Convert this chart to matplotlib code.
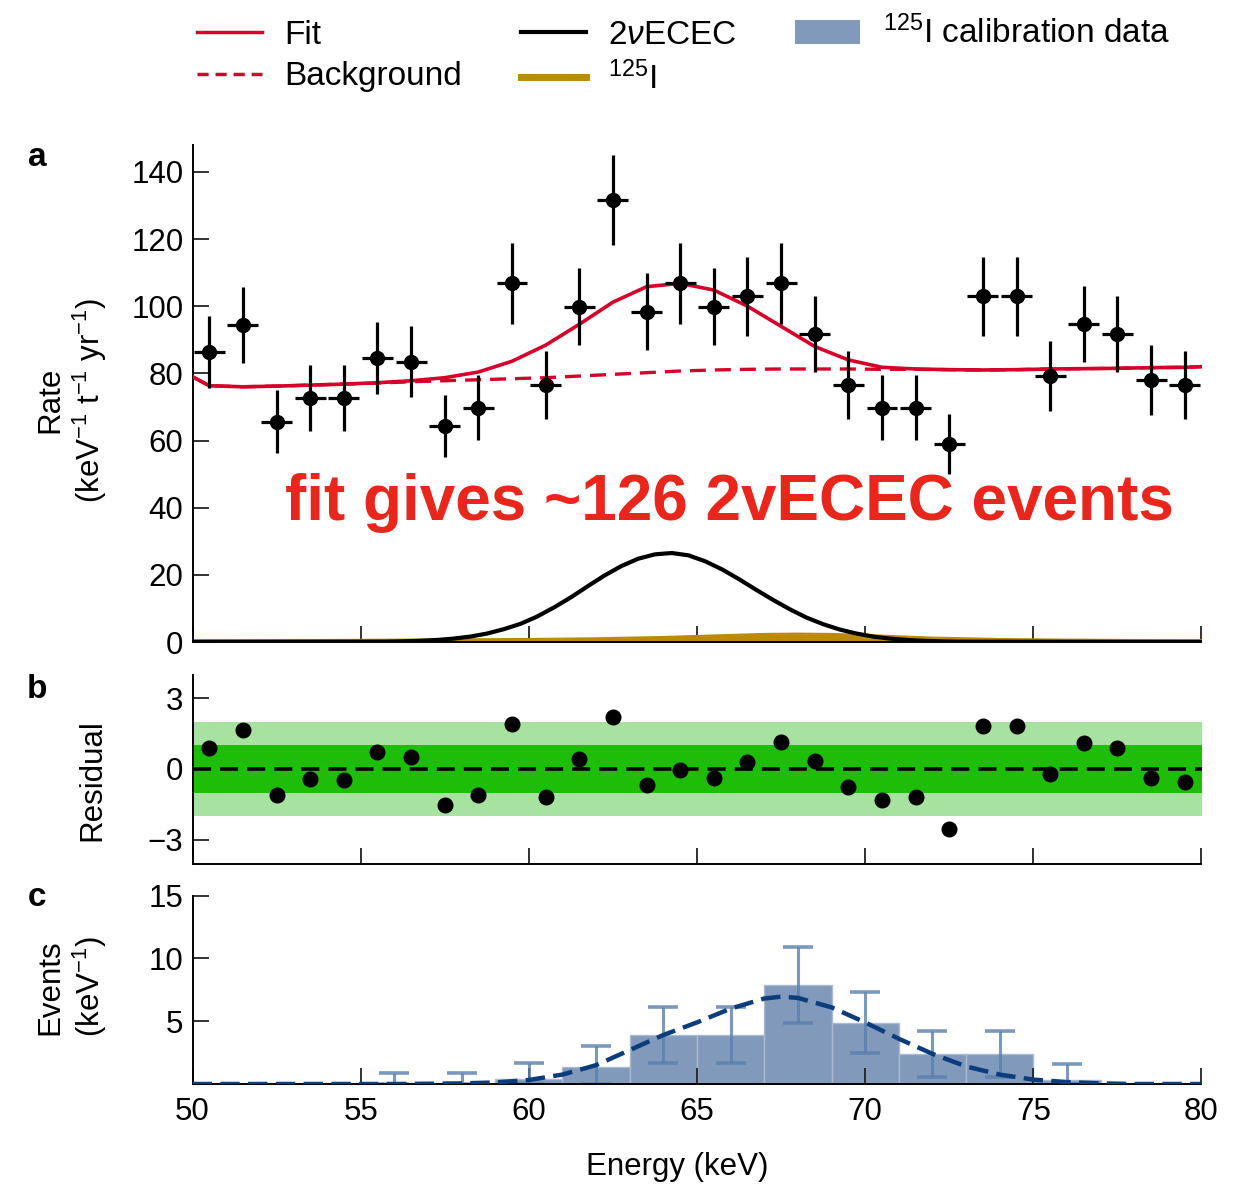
import matplotlib
matplotlib.use('Agg')
import matplotlib.pyplot as plt
from matplotlib.lines import Line2D
from matplotlib.patches import Patch

plt.rcParams['font.family'] = ['Liberation Sans', 'DejaVu Sans']
plt.rcParams['mathtext.fontset'] = 'custom'
plt.rcParams['mathtext.rm'] = 'Liberation Sans'
plt.rcParams['mathtext.it'] = 'Liberation Sans:italic'
plt.rcParams['mathtext.bf'] = 'Liberation Sans:bold'
plt.rcParams['lines.scale_dashes'] = False

# ---------------- data ----------------
bin_centers = [50.5, 51.5, 52.5, 53.5, 54.5, 55.5, 56.5, 57.5, 58.5, 59.5,
               60.5, 61.5, 62.5, 63.5, 64.5, 65.5, 66.5, 67.5, 68.5, 69.5,
               70.5, 71.5, 72.5, 73.5, 74.5, 75.5, 76.5, 77.5, 78.5, 79.5]
rate = [86.3, 94.4, 65.6, 72.6, 72.6, 84.7, 83.5, 64.3, 69.8, 106.8,
        76.6, 99.9, 131.5, 98.4, 106.8, 99.9, 102.9, 106.8, 91.7, 76.6,
        69.8, 69.8, 58.9, 102.9, 102.9, 79.3, 94.6, 91.7, 78.0, 76.6]
rate_err = [10.8, 11.3, 9.4, 9.9, 9.9, 10.7, 10.6, 9.3, 9.7, 12.0,
            10.2, 11.6, 13.4, 11.5, 12.0, 11.6, 11.8, 12.0, 11.2, 10.2,
            9.7, 9.7, 8.9, 11.8, 11.8, 10.4, 11.3, 11.2, 10.3, 10.2]
residual = [0.88, 1.63, -1.10, -0.42, -0.47, 0.71, 0.52, -1.54, -1.10, 1.91,
            -1.17, 0.42, 2.22, -0.68, -0.04, -0.40, 0.31, 1.13, 0.34, -0.78,
            -1.32, -1.20, -2.52, 1.80, 1.80, -0.23, 1.12, 0.88, -0.40, -0.57]

curve_x = [50.0, 50.5, 51.5, 52.5, 53.5, 54.5, 55.5, 56.5, 57.5, 58.5, 59.5,
           60.5, 61.5, 62.5, 63.5, 64.5, 65.5, 66.5, 67.5, 68.5, 69.5,
           70.5, 71.5, 72.5, 73.5, 74.5, 75.5, 76.5, 77.5, 78.5, 79.5, 80.0]
fit_total = [79.0, 76.3, 76.0, 76.2, 76.5, 76.8, 77.2, 77.8, 78.7, 80.4, 83.6,
             88.4, 94.6, 101.2, 105.8, 106.8, 104.8, 100.0, 94.0, 88.0, 84.0,
             81.8, 81.3, 81.1, 81.0, 81.1, 81.3, 81.4, 81.5, 81.7, 81.8, 82.0]
background = [79.0, 76.3, 76.0, 76.2, 76.5, 76.8, 77.1, 77.5, 77.8, 78.1, 78.4,
              78.7, 79.2, 79.7, 80.2, 80.7, 81.0, 81.2, 81.3, 81.3, 81.3,
              81.2, 81.2, 81.1, 81.0, 81.1, 81.3, 81.4, 81.5, 81.7, 81.8, 82.0]

ecec_x = [50.0, 55.75, 56.25, 56.75, 57.25, 57.75, 58.25, 58.75, 59.25, 59.75, 60.25,
          60.75, 61.25, 61.75, 62.25, 62.75, 63.25, 63.75, 64.25, 64.75, 65.25, 65.75,
          66.25, 66.75, 67.25, 67.75, 68.25, 68.75, 69.25, 69.75, 70.25, 70.75, 71.25,
          71.75, 72.25, 72.75, 80.0]
ecec = [0.0, 0.1, 0.2, 0.35, 0.6, 1.0, 1.6, 2.5, 3.8, 5.4, 7.6,
        10.3, 13.3, 16.6, 19.8, 22.6, 24.8, 26.1, 26.5, 25.8, 24.0, 21.6,
        18.7, 15.6, 12.6, 9.8, 7.3, 5.3, 3.7, 2.5, 1.6, 1.0, 0.6,
        0.35, 0.2, 0.1, 0.0]

i125_x = [50, 52, 54, 56, 58, 60, 62, 63, 64, 65, 66, 67, 68, 69, 70, 71, 72, 74, 76, 78, 80]
i125 = [0.6, 0.6, 0.6, 0.7, 0.8, 0.9, 1.1, 1.3, 1.5, 1.8, 2.1, 2.4, 2.5, 2.4, 2.1, 1.7, 1.3, 0.9, 0.7, 0.6, 0.6]

calib_centers = [56, 58, 60, 62, 64, 66, 68, 70, 72, 74, 76]
calib_events = [0.0, 0.0, 0.37, 1.38, 3.89, 3.89, 7.86, 4.87, 2.38, 2.38, 0.32]
calib_err_lo = [0.0, 0.0, 0.37, 1.38, 2.20, 2.20, 2.99, 2.44, 1.85, 1.80, 0.32]
calib_err_hi = [0.85, 0.85, 1.27, 1.64, 2.25, 2.25, 3.04, 2.46, 1.85, 1.85, 1.27]

calib_fit_x = [50, 56, 57, 58, 59, 60, 61, 62, 63, 64, 65, 66, 67, 67.5, 68,
               69, 70, 71, 72, 73, 74, 75, 76, 77, 78, 80]
calib_fit = [0.0, 0.0, 0.02, 0.05, 0.12, 0.32, 0.75, 1.5, 2.7, 3.9, 4.9, 6.0, 6.8, 6.95, 6.85,
             6.1, 4.9, 3.6, 2.4, 1.4, 0.75, 0.35, 0.15, 0.05, 0.0, 0.0]

x_ticks = [50, 55, 60, 65, 70, 75, 80]

# ---------------- style ----------------
RED = '#d7002a'
GOLD = '#bb8a0a'
BLUE_BAR = '#8199ba'
BLUE_ERR = '#5a7fae'
BLUE_FIT = '#0b3c7c'
GREEN_D = '#1ebd07'
GREEN_L = '#a8e2a0'
FS = 22.5

W, H = 1244, 1187
fig = plt.figure(figsize=(W / 100, H / 100), dpi=100)

def axrect(left, top, right, bottom):
    return [left / W, 1 - bottom / H, (right - left) / W, (bottom - top) / H]

ax_a = fig.add_axes(axrect(192.5, 145, 1201.5, 642))
ax_b = fig.add_axes(axrect(192.5, 674.5, 1201.5, 863.5))
ax_c = fig.add_axes(axrect(192.5, 895.5, 1201.5, 1084))

for ax in (ax_a, ax_b, ax_c):
    ax.spines['top'].set_visible(False)
    ax.spines['right'].set_visible(False)
    ax.spines['left'].set_linewidth(1.4)
    ax.spines['bottom'].set_linewidth(1.4)
    ax.set_xlim(50, 80)
    ax.set_xticks(x_ticks)
    ax.tick_params(direction='in', length=11.5, width=1.3, labelsize=FS, pad=6.5,
                   color='#222222')
    ax.tick_params(axis='x', pad=9)

# ---- panel a ----
ax_a.fill_between(i125_x, 0, i125, color=GOLD, lw=0, zorder=2)
ax_a.plot(i125_x, i125, color=GOLD, lw=1.5, zorder=2)
ax_a.plot(ecec_x, ecec, color='black', lw=3.0, zorder=3)
ax_a.plot(curve_x, background, color=RED, lw=2.4, ls=(0, (11.5, 6.5)), zorder=3)
ax_a.plot(curve_x, fit_total, color=RED, lw=2.6, zorder=4)
ax_a.errorbar(bin_centers, rate, yerr=rate_err, xerr=0.46, fmt='o', color='black',
              ms=10, elinewidth=2.3, capsize=0, zorder=5)
ax_a.set_ylim(0, 148)
ax_a.set_yticks([0, 20, 40, 60, 80, 100, 120, 140])
ax_a.tick_params(axis='x', labelbottom=False)

# ---- panel b ----
ax_b.axhspan(-2, 2, color=GREEN_L, lw=0, zorder=1)
ax_b.axhspan(-1, 1, color=GREEN_D, lw=0, zorder=1)
ax_b.axhline(0, color='black', lw=2.6, ls=(0, (13, 6.5)), zorder=2)
ax_b.plot(bin_centers, residual, 'o', color='black', ms=10.5, zorder=3)
ax_b.set_ylim(-4, 4)
ax_b.set_yticks([-3, 0, 3])
ax_b.tick_params(axis='x', labelbottom=False)

# ---- panel c ----
ax_c.bar(calib_centers, calib_events, width=2, color=BLUE_BAR,
         edgecolor='#a9bad1', linewidth=1, zorder=1)
ax_c.errorbar(calib_centers, calib_events, yerr=[calib_err_lo, calib_err_hi],
              fmt='none', ecolor=BLUE_ERR, alpha=0.8, elinewidth=2.2,
              capsize=10.8, capthick=2.6, zorder=2)
ax_c.plot(calib_fit_x, calib_fit, color=BLUE_FIT, lw=3.2, ls=(0, (14, 6)), zorder=3)
ax_c.set_ylim(0, 15)
ax_c.set_yticks([5, 10, 15])
ax_c.set_xticklabels([str(t) for t in x_ticks])

# ---- labels ----
def ftext(x, y, s, **kw):
    fig.text(x / W, 1 - y / H, s, **kw)

ftext(285, 503, 'fit gives ~126 2vECEC events', fontsize=46, fontweight='bold',
      color='#e8261c', ha='left', va='center')
ftext(50, 400, 'Rate', rotation=90, ha='center', va='center', fontsize=FS)
ftext(90, 400, '(keV$^{-1}$ t$^{-1}$ yr$^{-1}$)', rotation=90, ha='center', va='center', fontsize=FS)
ftext(92, 780, 'Residual', rotation=90, ha='center', va='center', fontsize=FS)
ftext(50, 987, 'Events', rotation=90, ha='center', va='center', fontsize=FS)
ftext(90, 987, '(keV$^{-1}$)', rotation=90, ha='center', va='center', fontsize=FS)
ftext(677, 1167, 'Energy (keV)', ha='center', va='center', fontsize=FS)
ftext(37, 157, 'a', ha='center', va='center', fontsize=24, fontweight='bold')
ftext(37, 690, 'b', ha='center', va='center', fontsize=24, fontweight='bold')
ftext(37, 897, 'c', ha='center', va='center', fontsize=24, fontweight='bold')

# ---- legend ----
handles = [Line2D([], [], color=RED, lw=2.5),
           Line2D([], [], color=RED, lw=2.5, ls=(0, (8, 5))),
           Line2D([], [], color='black', lw=3),
           Line2D([], [], color=GOLD, lw=5),
           Patch(facecolor=BLUE_BAR, edgecolor='none')]
labels = ['Fit', 'Background', '2$\\nu$ECEC', '$^{125}$I', '$^{125}$I calibration data']
fig.legend(handles, labels, loc='upper left', bbox_to_anchor=(197 / W, 1 - 16 / H),
           ncol=3, frameon=False, fontsize=24, handlelength=1.95, handletextpad=0.68,
           columnspacing=1.75, labelspacing=0.32, borderaxespad=0, borderpad=0)

fig.savefig('out.png', dpi=100)
